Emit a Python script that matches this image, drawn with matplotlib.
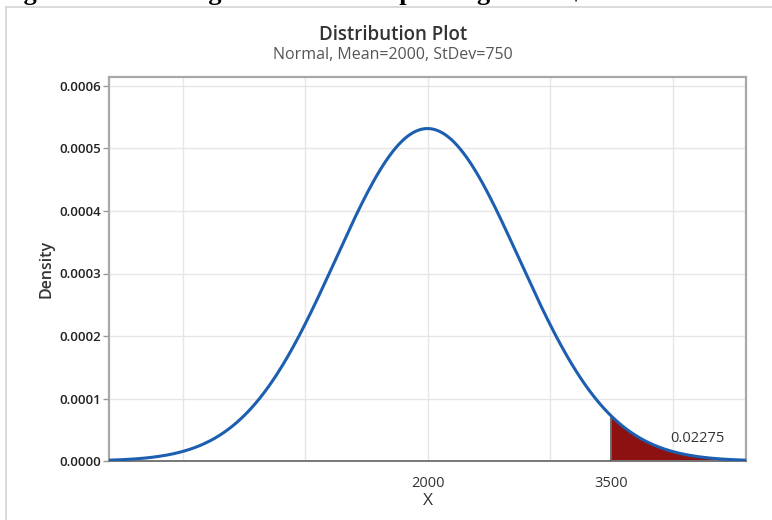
import numpy as np
import matplotlib
matplotlib.use("Agg")
import matplotlib.pyplot as plt
from matplotlib.lines import Line2D

# distribution parameters and the plotted range
mean = 2000
stdev = 750
x_min, x_max = -600, 4600
cutoff = 3500
tail_prob = 0.02275

x_ticks = [2000, 3500]
x_grid = [0, 1000, 2000, 3000, 4000]
y_ticks = [0.0, 0.0001, 0.0002, 0.0003, 0.0004, 0.0005, 0.0006]
y_tick_labels = ["0.0000", "0.0001", "0.0002", "0.0003", "0.0004", "0.0005", "0.0006"]

caption = "Figure 3: Percentage of customers spending above $3500"

plt.rcParams["font.family"] = ["Open Sans", "DejaVu Sans"]

W, H = 772, 520
fig = plt.figure(figsize=(W / 100, H / 100), dpi=100)
fig.patch.set_facecolor("white")

# caption of the surrounding document, cut off at the top edge
fig.text(0.0, 1.0, caption, fontsize=19, fontweight="bold",
         family="Liberation Serif", color="black", va="baseline", ha="left")

# light frame around the chart area
fig.add_artist(Line2D([6 / W, 6 / W], [0, 1 - 7 / H], transform=fig.transFigure,
                      color="#d4d4d4", lw=1.2))
fig.add_artist(Line2D([6 / W, 1], [1 - 7 / H, 1 - 7 / H], transform=fig.transFigure,
                      color="#d4d4d4", lw=1.2))

ax = fig.add_axes([109 / W, (H - 461) / H, 637 / W, 384 / H])

xs = np.linspace(x_min, x_max, 1000)
pdf = np.exp(-0.5 * ((xs - mean) / stdev) ** 2) / (stdev * np.sqrt(2 * np.pi))

# shaded upper tail
tail = xs >= cutoff
xt = np.concatenate([[cutoff], xs[tail]])
yt = np.exp(-0.5 * ((xt - mean) / stdev) ** 2) / (stdev * np.sqrt(2 * np.pi))
ax.fill_between(xt, 0, yt, color="#8e1111", lw=0, zorder=2)
ax.plot([cutoff, cutoff], [0, yt[0]], color="#555555", lw=1.2, zorder=3)

ax.plot(xs, pdf, color="#1c5fb0", lw=2.2, zorder=4)

ax.text(3980, 0.0000368, f"{tail_prob:.5f}", fontsize=10.5, color="#333333",
        ha="left", va="center")

ax.set_xlim(x_min, x_max)
ax.set_ylim(0, 0.0006144)

for gx in x_grid:
    ax.axvline(gx, color="#e6e6e6", lw=1, zorder=0)
for gy in y_ticks[1:]:
    ax.axhline(gy, color="#e6e6e6", lw=1, zorder=0)

ax.set_xticks(x_ticks)
ax.set_xticklabels([str(t) for t in x_ticks])
ax.set_yticks(y_ticks)
ax.set_yticklabels(y_tick_labels)
ax.tick_params(axis="x", length=0, pad=11, labelsize=10.5, labelcolor="#333333")
ax.tick_params(axis="y", length=4, width=1, color="#999999", pad=2,
               labelsize=9.5, labelcolor="#222222")
for lbl in ax.get_yticklabels():
    lbl.set_fontweight("semibold")

for side in ["top", "right", "left"]:
    ax.spines[side].set_color("#a8a8a8")
    ax.spines[side].set_linewidth(1.6)
ax.spines["bottom"].set_color("#777777")
ax.spines["bottom"].set_linewidth(1.4)

ax.set_xlabel("X", fontsize=12.5, color="#333333", labelpad=1)
ax.set_ylabel("Density", fontsize=11.5, color="#333333", fontweight="semibold",
              labelpad=3)

fig.text(393 / W, 1 - 35 / H, "Distribution Plot", fontsize=13.5, color="#333333",
         ha="center", va="center", fontweight="semibold")
fig.text(393 / W, 1 - 55 / H, "Normal, Mean=2000, StDev=750", fontsize=11.5,
         color="#555555", ha="center", va="center")

fig.savefig("out.png", dpi=100)
